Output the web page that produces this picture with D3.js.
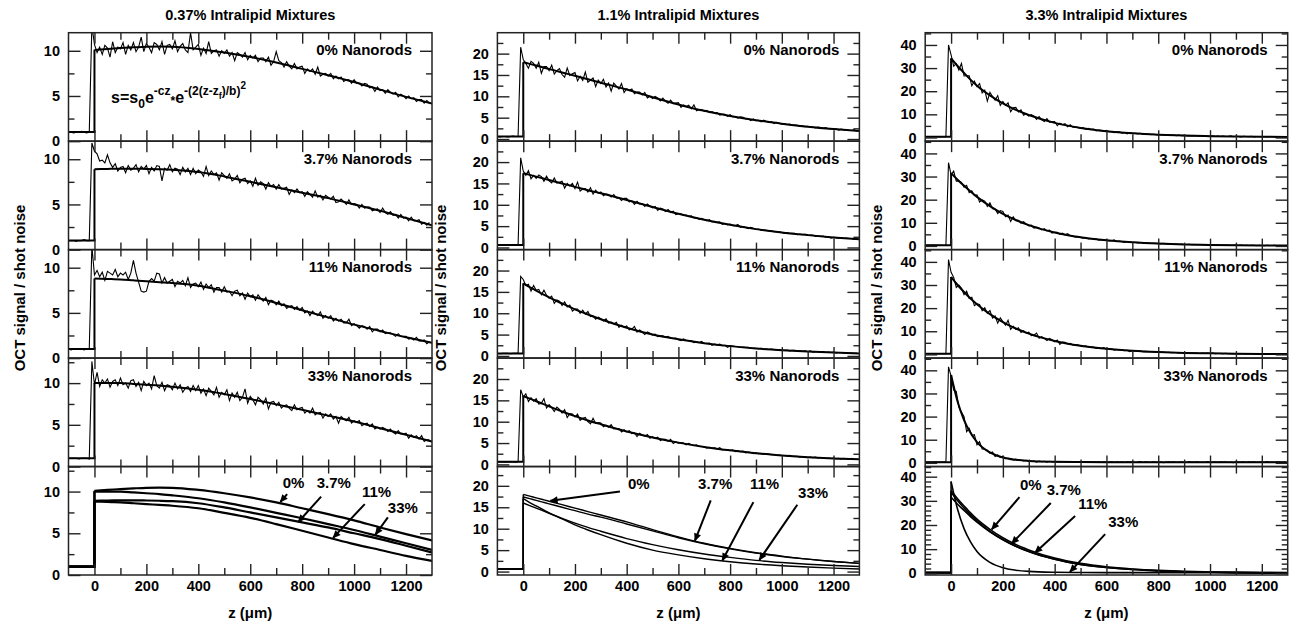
<!DOCTYPE html>
<html>
<head>
<meta charset="utf-8">
<script src="https://cdn.jsdelivr.net/npm/d3@7"></script>
<style>
  body { margin: 0; background: #fff; }
  svg { display: block; font-family: "Liberation Sans", Arial, Helvetica, sans-serif; font-weight: bold; }
</style>
</head>
<body>
<div id="chart"></div>
<script>
// ---- data: OCT signal / shot noise, one sample every 10 um starting at z = -100 um ----
const zStart = -100
const zStep = 10
// depths (um) at which the fitted curves are tabulated
const zFit = [0, 25, 50, 75, 100, 150, 200, 250, 300, 400, 500, 600, 700, 800, 900, 1000, 1100, 1200, 1300]

const titles = ['0.37% Intralipid Mixtures', '1.1% Intralipid Mixtures', '3.3% Intralipid Mixtures']
const nanorods = ['0%', '3.7%', '11%', '33%']
const surfaceLevel = [1.0, 0.6, 0.3]
const xTickLabels = [0, 200, 400, 600, 800, 1000, 1200]

// 0.37% intralipid
const oct037_0 = [1.0, 1.0, 0.9, 1.0, 1.0, 1.1, 1.0, 0.9, 1.0, 12.8,
  10.7, 9.8, 10.4, 9.6, 10.6, 10.3, 9.3, 11.0, 9.8, 10.4,
  10.2, 10.9, 9.6, 10.6, 10.1, 10.9, 9.9, 10.4, 11.5, 9.9,
  10.8, 10.4, 9.8, 10.9, 10.7, 10.1, 11.0, 9.6, 10.6, 10.7,
  10.2, 11.1, 9.9, 10.5, 10.8, 10.1, 9.8, 12.0, 10.1, 10.4,
  10.7, 9.5, 10.3, 9.7, 11.0, 9.7, 10.0, 10.1, 9.4, 10.0,
  9.7, 10.1, 9.4, 9.8, 8.9, 9.8, 9.6, 9.3, 9.8, 9.0,
  9.5, 9.2, 9.5, 8.8, 9.2, 9.2, 8.8, 9.3, 8.4, 8.8,
  9.9, 8.9, 8.7, 8.2, 8.8, 8.3, 8.0, 8.6, 8.0, 8.2,
  8.3, 7.5, 8.0, 7.7, 8.0, 7.4, 8.2, 7.2, 7.4, 7.5,
  7.2, 7.5, 6.9, 7.2, 6.9, 7.1, 6.6, 6.8, 6.8, 6.4,
  6.8, 6.4, 6.4, 6.1, 6.4, 6.3, 5.9, 6.0, 5.5, 6.0,
  5.6, 5.7, 5.3, 5.7, 5.4, 5.2, 5.4, 4.9, 5.2, 5.0,
  4.7, 5.0, 4.7, 4.8, 4.4, 4.6, 4.6, 4.2, 4.5, 4.2]
const oct037_37 = [1.0, 1.0, 1.0, 0.9, 1.0, 1.0, 1.1, 1.0, 1.0, 11.8,
  10.9, 10.6, 9.8, 9.9, 9.6, 10.5, 9.6, 9.1, 9.5, 8.7,
  9.1, 9.2, 8.5, 9.3, 8.8, 9.0, 9.4, 8.6, 9.2, 8.9,
  9.3, 8.4, 9.1, 8.7, 9.3, 9.2, 7.6, 9.0, 8.8, 9.4,
  8.6, 9.0, 8.9, 8.3, 9.1, 8.6, 9.0, 8.3, 9.0, 8.4,
  8.8, 8.6, 8.1, 9.2, 8.2, 8.7, 8.3, 8.5, 7.7, 8.5,
  8.2, 7.9, 8.4, 7.6, 7.8, 8.2, 7.4, 7.8, 7.9, 7.3,
  7.6, 7.0, 7.9, 7.1, 7.5, 7.3, 6.7, 7.4, 7.0, 7.2,
  6.7, 7.2, 6.7, 6.8, 6.9, 6.1, 6.6, 6.3, 6.7, 6.3,
  6.4, 5.9, 6.4, 6.1, 5.8, 6.5, 5.8, 6.0, 5.5, 6.0,
  5.8, 5.6, 5.9, 5.2, 5.3, 5.6, 5.3, 5.0, 5.5, 5.0,
  5.1, 5.0, 4.6, 5.0, 4.6, 4.7, 4.7, 4.3, 4.4, 4.5,
  4.1, 4.6, 4.1, 3.9, 4.2, 3.8, 3.9, 3.5, 3.9, 3.5,
  3.6, 3.2, 3.6, 3.2, 3.2, 3.3, 2.8, 3.0, 2.7, 3.0]
const oct037_11 = [1.0, 0.9, 1.0, 1.0, 1.0, 1.0, 0.9, 1.0, 1.0, 12.4,
  9.2, 9.7, 9.0, 9.5, 8.6, 9.6, 9.4, 9.2, 9.8, 9.0,
  9.4, 9.2, 9.5, 8.7, 9.4, 10.8, 9.4, 8.4, 7.4, 7.3,
  7.4, 8.5, 8.8, 8.5, 9.4, 9.3, 8.3, 8.9, 8.3, 8.5,
  8.7, 7.9, 8.5, 8.3, 8.6, 8.0, 8.9, 7.8, 8.2, 8.3,
  7.9, 8.4, 7.6, 8.2, 7.8, 8.1, 7.3, 7.8, 7.8, 7.3,
  7.9, 7.3, 7.4, 6.9, 7.4, 7.5, 6.9, 7.2, 6.5, 7.2,
  6.8, 7.0, 6.4, 7.0, 6.6, 6.3, 6.7, 5.9, 6.4, 6.3,
  5.9, 6.3, 5.8, 6.0, 5.5, 5.7, 5.8, 5.4, 5.7, 5.3,
  5.6, 5.0, 5.2, 4.7, 5.2, 4.9, 4.7, 5.1, 4.4, 4.7,
  4.4, 4.7, 4.1, 4.4, 4.1, 4.3, 3.9, 3.9, 4.3, 3.6,
  3.8, 3.6, 3.3, 3.6, 3.5, 3.2, 3.5, 2.9, 3.2, 3.2,
  2.9, 3.1, 2.7, 2.8, 2.8, 2.6, 2.4, 2.7, 2.4, 2.4,
  2.4, 2.1, 2.2, 2.0, 2.3, 1.9, 1.9, 2.0, 1.6, 1.8]
const oct037_33 = [1.0, 1.0, 1.0, 1.0, 0.9, 1.0, 1.0, 1.0, 0.9, 12.6,
  9.8, 11.3, 9.6, 10.4, 10.0, 10.5, 9.5, 10.2, 10.4, 9.7,
  10.6, 9.8, 10.0, 9.4, 10.3, 10.4, 9.6, 10.1, 9.1, 10.2,
  9.7, 10.0, 9.3, 10.9, 9.7, 9.4, 10.1, 9.1, 9.8, 9.7,
  9.2, 10.0, 9.3, 9.8, 8.9, 9.4, 9.6, 9.0, 9.7, 9.1,
  9.7, 8.8, 9.3, 8.5, 9.4, 9.0, 8.6, 9.5, 8.3, 8.9,
  8.6, 9.2, 7.9, 8.8, 8.3, 8.9, 7.9, 8.3, 9.3, 7.6,
  8.4, 8.0, 7.4, 8.3, 8.0, 7.5, 8.2, 6.9, 7.7, 7.8,
  7.3, 7.7, 7.0, 7.3, 7.4, 7.0, 6.7, 7.4, 6.8, 7.0,
  7.1, 6.4, 6.7, 6.4, 7.0, 6.2, 6.4, 6.5, 5.8, 6.3,
  6.0, 6.3, 5.7, 6.0, 5.2, 6.0, 5.7, 5.5, 5.9, 5.2,
  5.5, 5.3, 5.5, 4.9, 5.1, 5.2, 4.8, 5.1, 4.5, 4.7,
  4.5, 4.7, 4.5, 4.2, 4.5, 4.1, 3.9, 4.3, 3.9, 3.9,
  4.0, 3.4, 3.8, 3.5, 3.7, 3.3, 3.7, 3.0, 3.2, 3.2]

// 1.1% intralipid
const oct11_0 = [0.6, 0.5, 0.6, 0.6, 0.5, 0.6, 0.7, 0.6, 0.6, 21.5,
  18.6, 17.7, 16.6, 18.2, 17.7, 16.6, 18.0, 15.4, 17.0, 17.0,
  16.0, 17.3, 15.2, 16.0, 16.5, 15.1, 14.5, 16.6, 14.9, 15.3,
  15.6, 13.6, 14.7, 13.7, 15.7, 13.3, 13.8, 14.3, 12.3, 13.8,
  13.0, 14.0, 12.2, 13.1, 11.2, 13.1, 12.4, 11.7, 13.0, 10.9,
  11.8, 11.4, 11.7, 10.6, 11.0, 11.0, 10.3, 10.9, 9.6, 10.0,
  9.5, 10.0, 9.6, 8.9, 9.6, 8.8, 8.4, 9.1, 8.3, 8.4,
  8.5, 7.4, 8.0, 7.6, 7.9, 7.1, 8.0, 6.6, 6.9, 6.9,
  6.5, 6.7, 6.2, 6.4, 6.1, 6.2, 5.6, 5.8, 5.8, 5.3,
  5.7, 5.2, 5.2, 4.9, 5.2, 5.1, 4.7, 4.8, 4.3, 4.7,
  4.3, 4.4, 4.0, 4.4, 4.1, 3.9, 4.1, 3.6, 3.9, 3.7,
  3.5, 3.6, 3.4, 3.5, 3.2, 3.3, 3.2, 3.0, 3.1, 2.9,
  3.0, 2.8, 2.8, 2.6, 2.8, 2.6, 2.5, 2.7, 2.4, 2.4,
  2.3, 2.4, 2.1, 2.3, 2.1, 2.2, 2.0, 2.0, 2.2, 1.8]
const oct11_37 = [0.6, 0.6, 0.5, 0.6, 0.6, 0.6, 0.5, 0.6, 0.6, 21.0,
  17.9, 16.9, 18.0, 16.1, 16.9, 16.2, 17.0, 16.6, 15.5, 16.7,
  15.6, 15.1, 16.3, 15.1, 15.3, 15.5, 13.9, 15.0, 14.4, 15.0,
  13.8, 15.3, 13.2, 13.7, 13.8, 13.0, 14.0, 12.5, 13.4, 12.7,
  13.0, 12.1, 12.5, 12.4, 11.8, 12.4, 11.6, 11.6, 11.0, 11.5,
  11.5, 10.7, 10.9, 10.1, 10.8, 10.2, 10.3, 9.6, 10.2, 9.7,
  9.3, 9.6, 8.7, 9.2, 9.0, 8.4, 8.9, 8.2, 8.5, 7.7,
  7.9, 7.9, 7.5, 7.6, 7.3, 7.4, 6.9, 7.0, 6.6, 6.8,
  6.5, 6.3, 6.5, 6.0, 6.1, 5.9, 6.0, 5.4, 5.6, 5.3,
  5.5, 5.1, 5.1, 5.4, 4.7, 4.9, 4.7, 4.4, 4.7, 4.5,
  4.2, 4.3, 4.0, 4.1, 4.0, 3.9, 3.9, 3.7, 3.7, 3.7,
  3.5, 3.3, 3.5, 3.3, 3.3, 3.3, 3.0, 3.1, 3.0, 3.1,
  2.8, 2.9, 2.9, 2.6, 2.7, 2.6, 2.7, 2.4, 2.5, 2.2,
  2.4, 2.3, 2.2, 2.3, 2.1, 2.2, 2.1, 2.1, 1.9, 2.0]
const oct11_11 = [0.6, 0.5, 0.6, 0.6, 0.6, 0.5, 0.6, 0.6, 0.6, 18.6,
  17.9, 16.5, 16.8, 15.2, 16.5, 15.4, 15.6, 14.3, 15.4, 14.2,
  13.5, 14.0, 12.3, 13.1, 12.8, 11.8, 12.7, 11.5, 11.9, 10.5,
  11.0, 11.0, 10.0, 10.7, 9.8, 10.4, 9.2, 9.4, 8.6, 9.1,
  8.7, 8.2, 8.7, 7.7, 7.9, 7.5, 7.9, 6.7, 7.2, 6.7,
  7.0, 6.1, 6.3, 6.9, 5.6, 6.1, 5.6, 5.0, 5.6, 5.3,
  4.9, 5.1, 4.5, 4.7, 4.7, 4.4, 4.6, 4.1, 4.1, 4.2,
  3.8, 3.6, 4.0, 3.6, 3.6, 3.6, 3.1, 3.3, 3.1, 3.4,
  2.9, 2.9, 3.0, 2.5, 2.8, 2.6, 2.8, 2.4, 2.5, 2.0,
  2.4, 2.3, 2.2, 2.2, 2.0, 2.1, 2.0, 2.0, 1.8, 1.8,
  1.8, 1.7, 1.8, 1.5, 1.6, 1.5, 1.6, 1.5, 1.4, 1.5,
  1.3, 1.3, 1.4, 1.2, 1.3, 1.3, 1.1, 1.2, 1.1, 1.2,
  1.0, 1.2, 0.9, 1.0, 1.0, 0.9, 1.0, 0.8, 0.9, 0.8,
  0.9, 0.7, 0.8, 0.8, 0.7, 0.8, 0.6, 0.7, 0.6, 0.7]
const oct11_33 = [0.6, 0.6, 0.6, 0.5, 0.6, 0.6, 0.6, 0.5, 0.6, 17.5,
  15.8, 16.5, 14.7, 15.6, 14.8, 15.4, 14.1, 14.3, 15.4, 13.2,
  14.0, 13.3, 12.4, 13.4, 12.9, 12.0, 12.8, 11.0, 11.9, 11.8,
  11.1, 11.8, 10.3, 10.8, 11.0, 10.0, 9.5, 10.8, 9.6, 9.8,
  9.7, 8.8, 9.2, 8.7, 9.3, 8.3, 8.4, 8.4, 7.6, 8.1,
  7.6, 7.9, 7.2, 7.4, 6.5, 7.3, 6.9, 6.6, 7.0, 6.1,
  6.5, 6.1, 6.4, 5.6, 5.9, 5.9, 5.4, 5.9, 4.9, 5.3,
  5.0, 5.1, 5.0, 4.6, 4.9, 4.6, 4.4, 4.6, 4.2, 4.2,
  4.2, 3.8, 4.0, 3.8, 3.9, 3.6, 3.9, 3.4, 3.5, 3.4,
  3.2, 3.4, 3.0, 3.2, 3.0, 3.1, 2.7, 2.9, 2.8, 2.5,
  2.7, 2.5, 2.5, 2.4, 2.5, 2.4, 2.3, 2.3, 2.1, 2.2,
  2.1, 2.1, 2.0, 2.1, 1.9, 1.9, 1.9, 1.7, 1.8, 1.8,
  1.6, 1.7, 1.6, 1.7, 1.5, 1.6, 1.6, 1.4, 1.5, 1.4,
  1.5, 1.3, 1.4, 1.2, 1.4, 1.3, 1.2, 1.4, 1.2, 1.2]

// 3.3% intralipid
const oct33_0 = [0.3, 0.3, 0.4, 0.3, 0.3, 0.3, 0.2, 0.3, 0.3, 40.0,
  35.7, 30.8, 31.9, 29.2, 32.0, 26.6, 26.7, 26.7, 22.3, 24.3,
  22.0, 23.3, 19.3, 20.5, 15.7, 19.5, 17.7, 16.1, 18.1, 13.9,
  15.6, 13.9, 15.0, 11.1, 12.8, 13.0, 11.0, 11.9, 9.6, 10.2,
  9.2, 9.9, 9.2, 7.8, 9.0, 7.6, 6.9, 8.1, 6.6, 6.8,
  6.9, 5.1, 6.2, 5.5, 6.0, 4.6, 5.5, 4.4, 4.5, 4.4,
  3.9, 4.3, 3.5, 3.9, 3.4, 3.6, 2.8, 3.2, 3.1, 2.6,
  3.1, 2.5, 2.5, 2.1, 2.5, 2.5, 1.9, 2.1, 1.5, 2.1,
  1.8, 1.8, 1.5, 1.8, 1.5, 1.4, 1.5, 1.2, 1.4, 1.3,
  1.1, 1.3, 1.1, 1.2, 0.9, 1.0, 1.0, 0.8, 1.0, 0.8,
  0.9, 0.7, 0.8, 0.6, 0.8, 0.7, 0.6, 0.8, 0.5, 0.6,
  0.5, 0.7, 0.4, 0.6, 0.4, 0.6, 0.4, 0.4, 0.7, 0.3,
  0.5, 0.4, 0.2, 0.5, 0.4, 0.3, 0.5, 0.2, 0.4, 0.4,
  0.3, 0.4, 0.2, 0.3, 0.4, 0.2, 0.2, 0.4, 0.2, 0.3]
const oct33_37 = [0.3, 0.3, 0.3, 0.4, 0.3, 0.3, 0.3, 0.2, 0.3, 36.0,
  30.8, 32.4, 28.0, 28.1, 27.5, 25.4, 26.2, 23.0, 23.8, 21.8,
  22.1, 19.0, 19.9, 19.4, 17.1, 18.6, 16.1, 16.0, 14.0, 15.3,
  14.9, 12.6, 13.3, 10.6, 12.6, 10.9, 11.1, 9.8, 10.5, 9.4,
  8.7, 9.0, 7.7, 8.1, 7.7, 6.9, 7.5, 6.5, 6.8, 5.5,
  5.9, 5.9, 5.0, 5.5, 4.8, 5.3, 4.4, 4.4, 3.8, 4.1,
  3.7, 3.4, 3.7, 3.0, 3.2, 2.9, 3.1, 2.5, 2.7, 2.4,
  2.6, 2.1, 2.2, 2.6, 1.8, 2.1, 1.8, 1.5, 1.9, 1.7,
  1.5, 1.6, 1.3, 1.4, 1.4, 1.2, 1.3, 1.1, 1.1, 1.1,
  1.0, 0.9, 1.1, 0.9, 0.9, 0.9, 0.7, 0.8, 0.7, 0.8,
  0.6, 0.6, 0.7, 0.5, 0.6, 0.5, 0.6, 0.4, 0.5, 0.3,
  0.5, 0.4, 0.4, 0.5, 0.3, 0.4, 0.3, 0.4, 0.2, 0.3,
  0.4, 0.2, 0.4, 0.2, 0.3, 0.2, 0.3, 0.3, 0.1, 0.3,
  0.2, 0.1, 0.3, 0.2, 0.2, 0.3, 0.1, 0.2, 0.2, 0.2]
const oct33_11 = [0.3, 0.4, 0.3, 0.3, 0.3, 0.3, 0.3, 0.4, 0.3, 41.0,
  35.5, 33.3, 28.9, 30.0, 28.6, 25.8, 27.3, 24.2, 24.7, 21.1,
  21.9, 21.6, 18.9, 20.2, 17.8, 19.0, 15.7, 16.6, 13.5, 15.8,
  14.2, 12.6, 14.8, 10.8, 12.1, 10.8, 11.5, 9.5, 10.2, 9.2,
  9.6, 8.1, 8.3, 9.2, 7.0, 7.7, 6.9, 6.0, 6.9, 6.3,
  5.4, 6.2, 4.3, 5.3, 5.2, 4.5, 4.8, 4.1, 4.1, 4.1,
  3.6, 3.3, 3.7, 3.2, 3.2, 3.2, 2.6, 2.8, 2.5, 2.9,
  2.2, 2.3, 2.4, 1.8, 2.1, 1.9, 2.1, 1.6, 1.8, 1.2,
  1.6, 1.5, 1.4, 1.5, 1.2, 1.3, 1.2, 1.2, 1.0, 1.1,
  1.1, 0.9, 1.0, 0.8, 0.9, 0.7, 0.8, 0.8, 0.6, 0.8,
  0.6, 0.6, 0.7, 0.6, 0.6, 0.6, 0.4, 0.6, 0.5, 0.6,
  0.4, 0.6, 0.3, 0.4, 0.4, 0.3, 0.5, 0.3, 0.4, 0.3,
  0.4, 0.2, 0.3, 0.3, 0.2, 0.4, 0.2, 0.2, 0.1, 0.3,
  0.3, 0.1, 0.2, 0.1, 0.3, 0.2, 0.2, 0.1, 0.3, 0.2]
const oct33_33 = [0.3, 0.3, 0.3, 0.3, 0.4, 0.3, 0.3, 0.3, 0.3, 41.5,
  37.5, 31.4, 30.9, 24.1, 22.0, 20.0, 13.5, 14.9, 11.8, 12.2,
  7.8, 9.2, 6.0, 5.9, 5.5, 4.1, 4.7, 2.7, 3.4, 2.4,
  2.9, 1.8, 2.0, 1.8, 1.3, 1.6, 1.1, 1.1, 0.8, 1.1,
  1.0, 0.6, 0.8, 0.3, 0.8, 0.5, 0.7, 0.3, 0.7, 0.5,
  0.4, 0.5, 0.3, 0.5, 0.4, 0.3, 0.5, 0.3, 0.4, 0.2,
  0.4, 0.4, 0.3, 0.4, 0.3, 0.5, 0.3, 0.4, 0.2, 0.4,
  0.3, 0.3, 0.5, 0.2, 0.4, 0.3, 0.4, 0.2, 0.4, 0.3,
  0.4, 0.2, 0.3, 0.5, 0.2, 0.4, 0.3, 0.2, 0.4, 0.3,
  0.2, 0.4, 0.1, 0.3, 0.4, 0.3, 0.4, 0.2, 0.3, 0.4,
  0.2, 0.2, 0.5, 0.3, 0.3, 0.4, 0.2, 0.3, 0.2, 0.5,
  0.2, 0.3, 0.4, 0.2, 0.4, 0.3, 0.4, 0.2, 0.3, 0.1,
  0.4, 0.3, 0.3, 0.4, 0.2, 0.4, 0.3, 0.4, 0.2, 0.3,
  0.4, 0.2, 0.5, 0.2, 0.3, 0.2, 0.4, 0.3, 0.2, 0.4]

// fitted curves s = s0 exp(-cz) exp(-(2(z-zf)/b)^2), read at zFit
const fit037_0 = [10.1, 10.15, 10.2, 10.25, 10.3, 10.38, 10.45, 10.47, 10.45, 10.2, 9.8, 9.3, 8.7, 8.0, 7.3, 6.55, 5.7, 4.9, 4.15]
const fit037_37 = [8.9, 8.92, 8.93, 8.94, 8.95, 8.95, 8.93, 8.9, 8.85, 8.6, 8.1, 7.5, 6.9, 6.3, 5.7, 5.0, 4.3, 3.5, 2.7]
const fit037_11 = [8.8, 8.78, 8.76, 8.73, 8.7, 8.6, 8.5, 8.4, 8.3, 8.0, 7.45, 6.85, 6.1, 5.3, 4.5, 3.7, 3.0, 2.3, 1.7]
const fit037_33 = [10.0, 10.0, 10.0, 10.0, 10.0, 9.9, 9.8, 9.7, 9.55, 9.2, 8.7, 8.1, 7.45, 6.8, 6.1, 5.4, 4.6, 3.8, 3.0]
const fit11_0 = [18.0, 17.6, 17.2, 16.8, 16.4, 15.6, 14.8, 14.0, 13.2, 11.6, 9.8, 8.1, 6.6, 5.4, 4.4, 3.6, 2.9, 2.35, 1.9]
const fit11_37 = [17.4, 17.0, 16.6, 16.2, 15.8, 15.0, 14.2, 13.4, 12.7, 11.1, 9.5, 7.9, 6.5, 5.3, 4.3, 3.5, 2.9, 2.35, 1.9]
const fit11_11 = [17.0, 16.1, 15.3, 14.5, 13.7, 12.3, 10.9, 9.7, 8.6, 6.6, 5.0, 3.9, 3.0, 2.3, 1.75, 1.35, 1.05, 0.8, 0.6]
const fit11_33 = [16.0, 15.4, 14.8, 14.2, 13.6, 12.4, 11.3, 10.3, 9.4, 7.7, 6.3, 5.1, 4.1, 3.3, 2.6, 2.1, 1.7, 1.4, 1.2]
const fit33_0 = [34.2, 30.9, 27.9, 25.0, 22.4, 18.2, 14.7, 11.9, 9.7, 6.3, 4.1, 2.7, 1.8, 1.2, 0.8, 0.55, 0.4, 0.3, 0.25]
const fit33_37 = [31.5, 28.6, 26.0, 23.5, 21.2, 17.2, 13.9, 11.2, 9.0, 5.8, 3.7, 2.4, 1.55, 1.0, 0.65, 0.45, 0.3, 0.2, 0.15]
const fit33_11 = [33.5, 30.0, 27.0, 24.2, 21.7, 17.4, 14.0, 11.2, 9.0, 5.8, 3.7, 2.4, 1.55, 1.0, 0.65, 0.45, 0.3, 0.2, 0.15]
const fit33_33 = [38.0, 26.5, 18.5, 13.0, 9.0, 4.5, 2.3, 1.3, 0.8, 0.45, 0.35, 0.3, 0.3, 0.3, 0.3, 0.3, 0.3, 0.3, 0.3]

const series = [
  [oct037_0, oct037_37, oct037_11, oct037_33],
  [oct11_0, oct11_37, oct11_11, oct11_33],
  [oct33_0, oct33_37, oct33_11, oct33_33]
]
const fits = [
  [fit037_0, fit037_37, fit037_11, fit037_33],
  [fit11_0, fit11_37, fit11_11, fit11_33],
  [fit33_0, fit33_37, fit33_11, fit33_33]
]

// ---- layout ----
const width = 1291
const height = 627
const colX = [[68.5, 432], [497.4, 859.4], [925.2, 1287.7]]
const yLabelX = [20, 441, 877]
const panelTop = 32.7
const panelH = 108.46
const yDomains = [
  [[0, 12], [0, 12], [0, 12], [0, 13], [0, 13]],
  [[-0.5, 24.9], [-0.5, 24.9], [-0.5, 24.9], [-0.5, 24.9], [-0.8, 24.5]],
  [[-1.6, 45.3], [-1.6, 45.3], [-1.6, 45.3], [-1.6, 45.3], [-0.7, 44.2]]
]
const yMajor = [5, 5, 10]
const yMinor = [[2.5, 2.5, 2.5, 2.5, 2.5], [2.5, 2.5, 2.5, 2.5, 2.5], [5, 5, 5, 5, 2]]
const overlayWidth = [2.2, 1.4, 1.6]

// arrow annotations in the overlay panels, in data units (z, signal)
const arrowNotes = [
  [
    { t: '0%', x: 725, y: 10.4, x1: 742, y1: 9.7, x2: 716, y2: 8.75 },
    { t: '3.7%', x: 856, y: 10.4, x1: 873, y1: 9.4, x2: 785, y2: 6.35 },
    { t: '11%', x: 1030, y: 9.3, x1: 1041, y1: 8.5, x2: 919, y2: 4.45 },
    { t: '33%', x: 1130, y: 7.4, x1: 1130, y1: 6.9, x2: 1082, y2: 4.85 }
  ],
  [
    { t: '0%', x: 405, y: 19.3, x1: 374, y1: 18.7, x2: 105, y2: 16.5 },
    { t: '3.7%', x: 676, y: 19.3, x1: 725, y1: 16.6, x2: 664, y2: 7.2 },
    { t: '11%', x: 877, y: 19.3, x1: 890, y1: 16.2, x2: 770, y2: 2.6 },
    { t: '33%', x: 1063, y: 17.2, x1: 1060, y1: 15.6, x2: 913, y2: 2.7 }
  ],
  [
    { t: '0%', x: 266, y: 34.3, x1: 264, y1: 31.5, x2: 157, y2: 18.2 },
    { t: '3.7%', x: 369, y: 32.6, x1: 385, y1: 29.1, x2: 234, y2: 12.3 },
    { t: '11%', x: 491, y: 26.8, x1: 479, y1: 23.7, x2: 324, y2: 8.5 },
    { t: '33%', x: 607, y: 19.3, x1: 595, y1: 16.2, x2: 459, y2: 0.6 }
  ]
]

const ink = '#222'

const svg = d3.select('#chart').append('svg')
  .attr('width', width)
  .attr('height', height)

const defs = svg.append('defs')
defs.append('marker')
  .attr('id', 'head')
  .attr('viewBox', '0 0 10 10')
  .attr('refX', 9)
  .attr('refY', 5)
  .attr('markerWidth', 4.5)
  .attr('markerHeight', 4)
  .attr('orient', 'auto')
  .append('path')
  .attr('d', 'M0,0.5 L10,5 L0,9.5 z')
  .attr('fill', '#000')

function ticksBetween(d, step, skip) {
  const lo = Math.ceil((d[0] - 1e-9) / step) * step
  return d3.range(lo, d[1] + 1e-9, step).filter(v => !skip || Math.abs(v / skip - Math.round(v / skip)) > 1e-6)
}

function styleAxis(g) {
  g.select('.domain').remove()
  g.attr('font-size', null).attr('font-family', null)
  g.selectAll('line').attr('stroke', ink).attr('stroke-width', 1.4)
  g.selectAll('text').attr('fill', '#000').style('font-size', '14.5px')
}

function drawFit(g, x, y, fit, base, w) {
  g.append('path')
    .attr('d', d3.line()([[x(-110), y(base)], [x(0), y(base)], [x(0), y(fit[0])]]))
    .attr('fill', 'none')
    .attr('stroke', '#000')
    .attr('stroke-width', w)
  g.append('path')
    .datum(fit)
    .attr('d', d3.line().x((d, i) => x(zFit[i])).y(d => y(d)).curve(d3.curveMonotoneX))
    .attr('fill', 'none')
    .attr('stroke', '#000')
    .attr('stroke-width', w)
}

titles.forEach((title, c) => {
  const [left, right] = colX[c]
  const x = d3.scaleLinear().domain([-100, 1300]).range([left, right])

  svg.append('text')
    .attr('x', (left + right) / 2)
    .attr('y', 20)
    .attr('text-anchor', 'middle')
    .style('font-size', '14.5px')
    .text(title)

  for (let p = 0; p < 5; p++) {
    const top = panelTop + p * panelH
    const bottom = top + panelH
    const dom = yDomains[c][p]
    const y = d3.scaleLinear().domain(dom).range([bottom, top])
    const clipId = `clip-${c}-${p}`
    defs.append('clipPath').attr('id', clipId)
      .append('rect')
      .attr('x', left).attr('y', top)
      .attr('width', right - left).attr('height', panelH)

    const plot = svg.append('g').attr('clip-path', `url(#${clipId})`)

    if (p < 4) {
      const vals = series[c][p]
      plot.append('path')
        .datum(vals)
        .attr('d', d3.line().x((d, i) => x(zStart + i * zStep)).y(d => y(d)))
        .attr('fill', 'none')
        .attr('stroke', '#000')
        .attr('stroke-width', 1.1)
      drawFit(plot, x, y, fits[c][p], surfaceLevel[c], 2)

      svg.append('text')
        .attr('x', right - 20)
        .attr('y', top + 22.5)
        .attr('text-anchor', 'end')
        .style('font-size', '15px')
        .text(`${nanorods[p]} Nanorods`)
    } else {
      fits[c].forEach(f => drawFit(plot, x, y, f, surfaceLevel[c], overlayWidth[c]))

      const notes = svg.append('g')
      arrowNotes[c].forEach(a => {
        notes.append('text')
          .attr('x', x(a.x))
          .attr('y', y(a.y))
          .style('font-size', '15px')
          .text(a.t)
        notes.append('line')
          .attr('x1', x(a.x1)).attr('y1', y(a.y1))
          .attr('x2', x(a.x2)).attr('y2', y(a.y2))
          .attr('stroke', '#000')
          .attr('stroke-width', 2)
          .attr('marker-end', 'url(#head)')
      })
    }

    // frame
    svg.append('rect')
      .attr('x', left).attr('y', top)
      .attr('width', right - left).attr('height', panelH)
      .attr('fill', 'none')
      .attr('stroke', ink)
      .attr('stroke-width', 1.5)

    // ticks on all four sides, pointing inward
    const yMaj = ticksBetween(dom, yMajor[c])
    const yMin = ticksBetween(dom, yMinor[c][p], yMajor[c])
    const xMaj = [0, 200, 400, 600, 800, 1000, 1200]
    const xMin = [100, 300, 500, 700, 900, 1100]

    svg.append('g').attr('transform', `translate(${left},0)`)
      .call(d3.axisLeft(y).tickValues(yMaj).tickSize(-12).tickPadding(8.5).tickFormat(d3.format('d')))
      .call(styleAxis)
    svg.append('g').attr('transform', `translate(${left},0)`)
      .call(d3.axisLeft(y).tickValues(yMin).tickSize(-6).tickFormat(() => ''))
      .call(styleAxis)
    svg.append('g').attr('transform', `translate(${right},0)`)
      .call(d3.axisRight(y).tickValues(yMaj).tickSize(-12).tickFormat(() => ''))
      .call(styleAxis)
    svg.append('g').attr('transform', `translate(${right},0)`)
      .call(d3.axisRight(y).tickValues(yMin).tickSize(-6).tickFormat(() => ''))
      .call(styleAxis)

    svg.append('g').attr('transform', `translate(0,${bottom})`)
      .call(d3.axisBottom(x).tickValues(p === 4 ? xTickLabels : xMaj).tickSize(-11).tickPadding(5.5)
        .tickFormat(p === 4 ? d3.format('d') : () => ''))
      .call(styleAxis)
    svg.append('g').attr('transform', `translate(0,${bottom})`)
      .call(d3.axisBottom(x).tickValues(xMin).tickSize(-7).tickFormat(() => ''))
      .call(styleAxis)
    svg.append('g').attr('transform', `translate(0,${top})`)
      .call(d3.axisTop(x).tickValues(xMaj).tickSize(-11).tickFormat(() => ''))
      .call(styleAxis)
    svg.append('g').attr('transform', `translate(0,${top})`)
      .call(d3.axisTop(x).tickValues(xMin).tickSize(-7).tickFormat(() => ''))
      .call(styleAxis)

    // fit formula in the first panel
    if (c === 0 && p === 0) {
      const f = svg.append('text')
        .attr('x', x(64))
        .attr('y', y(4.2))
        .style('font-size', '16px')
      f.append('tspan').text('s=s')
      f.append('tspan').attr('dy', 5).style('font-size', '12px').text('0')
      f.append('tspan').attr('dy', -5).text('e')
      f.append('tspan').attr('dy', -8).style('font-size', '12px').text('-cz')
      f.append('tspan').attr('dy', 10).style('font-size', '12px').text('*')
      f.append('tspan').attr('dy', -2).text('e')
      f.append('tspan').attr('dy', -8).style('font-size', '12px').text('-(2(z-z')
      f.append('tspan').attr('dy', 4).style('font-size', '9px').text('f')
      f.append('tspan').attr('dy', -4).style('font-size', '12px').text(')/b)')
      f.append('tspan').attr('dy', -6).style('font-size', '10px').text('2')
    }
  }

  svg.append('text')
    .attr('transform', `translate(${yLabelX[c]},288) rotate(-90)`)
    .attr('text-anchor', 'middle')
    .attr('dy', '0.35em')
    .style('font-size', '15px')
    .text('OCT signal / shot noise')

  svg.append('text')
    .attr('x', (left + right) / 2)
    .attr('y', 618)
    .attr('text-anchor', 'middle')
    .style('font-size', '15px')
    .text('z (μm)')
})
</script>
</body>
</html>
